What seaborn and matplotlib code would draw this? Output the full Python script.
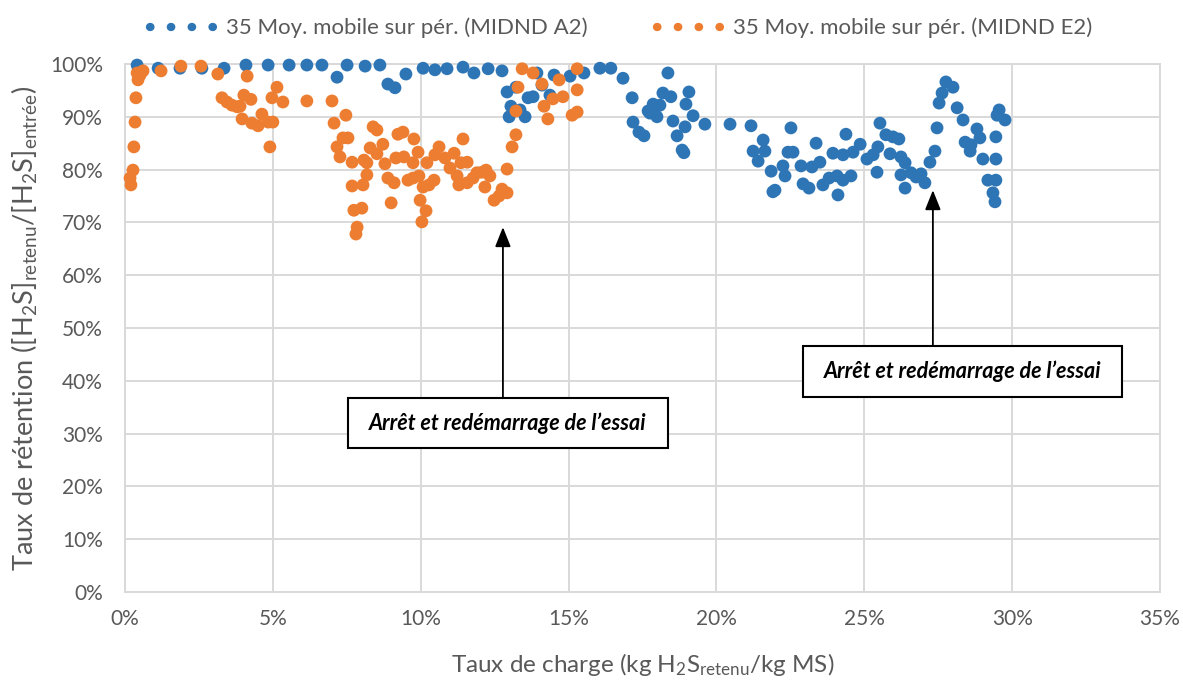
import numpy as np
import pandas as pd
import matplotlib
matplotlib.use("Agg")
import matplotlib.pyplot as plt
from matplotlib.lines import Line2D
from matplotlib.patches import Rectangle
from matplotlib.ticker import PercentFormatter
import seaborn as sns

# Series labels
series_a2 = "35 Moy. mobile sur pér. (MIDND A2)"
series_e2 = "35 Moy. mobile sur pér. (MIDND E2)"

# MIDND A2: loading rate (%) and retention rate (%)
a2_charge = [
    0.41, 1.12, 1.86, 2.60, 3.35, 4.09, 4.84, 5.55, 6.15, 6.66, 7.17, 7.51, 8.12, 8.62,
    8.89, 9.13, 9.50, 10.08, 10.48, 10.89, 11.43, 11.80, 12.28, 12.75, 12.92, 13.22,
    13.05, 12.99, 13.36, 13.53, 13.63, 13.80, 13.93, 14.10, 14.37, 14.51, 15.05, 15.52,
    16.06, 16.43, 16.84, 17.15, 17.18, 17.38, 17.55, 17.69, 17.86, 17.99, 18.09, 18.19,
    18.36, 18.46, 18.53, 18.67, 18.84, 18.90, 18.94, 18.97, 19.07, 19.21, 19.61, 20.46,
    21.17, 21.58, 21.24, 21.64, 21.41, 21.85, 21.98, 21.91, 22.25, 22.32, 22.52, 22.42,
    22.59, 22.86, 22.93, 23.13, 23.23, 23.37, 23.50, 23.60, 23.81, 23.94, 24.08, 24.11,
    24.28, 24.38, 24.28, 24.55, 24.62, 24.86, 25.09, 25.30, 25.43, 25.46, 25.53, 25.73,
    25.97, 26.17, 25.87, 26.24, 26.38, 26.24, 26.38, 26.58, 26.75, 26.92, 27.05, 27.22,
    27.39, 27.46, 27.53, 27.63, 27.76, 28.00, 28.14, 28.34, 28.81, 28.91, 28.41, 28.61,
    28.58, 29.01, 29.18, 29.45, 29.35, 29.42, 29.45, 29.45, 29.56, 29.49, 29.76, 17.75,
    17.92,
]
a2_retention = [
    99.8, 99.2, 99.2, 99.2, 99.2, 99.8, 99.8, 99.8, 99.8, 99.8, 97.5, 99.8, 99.6, 99.8,
    96.2, 95.5, 98.1, 99.2, 98.9, 99.1, 99.4, 98.3, 99.1, 98.7, 94.7, 95.6,
    92.0, 90.0, 91.3, 90.0, 93.6, 93.8, 98.3, 96.0, 94.1, 97.9, 97.7, 98.3,
    99.2, 99.2, 97.3, 93.6, 89.0, 87.1, 86.4, 91.1, 92.4, 90.0, 92.2, 94.5,
    98.3, 93.8, 89.2, 86.4, 83.7, 83.2, 88.1, 92.4, 94.7, 90.2, 88.6, 88.6,
    88.3, 85.6, 83.5, 83.5, 81.6, 79.7, 76.1, 75.8, 80.7, 78.8, 87.9, 83.3,
    83.3, 80.7, 77.3, 76.5, 80.5, 85.0, 81.4, 77.1, 78.4, 83.1, 78.8, 75.2,
    78.0, 86.7, 82.8, 78.8, 83.3, 84.8, 82.0, 82.8, 79.5, 84.3, 88.8, 86.6,
    86.2, 85.8, 83.0, 82.4, 81.3, 79.0, 76.5, 79.4, 78.6, 79.2, 77.5, 81.4,
    83.5, 87.9, 92.6, 94.5, 96.6, 95.6, 91.7, 89.4, 87.7, 86.0, 85.2, 84.7,
    83.5, 82.0, 78.0, 78.0, 75.6, 73.9, 86.2, 82.0, 91.3, 90.3, 89.4, 90.7,
    91.7,
]

# MIDND E2: loading rate (%) and retention rate (%)
e2_charge = [
    0.17, 0.20, 0.27, 0.30, 0.34, 0.37, 0.44, 0.41, 0.51, 0.61, 1.22, 1.89, 2.57, 3.14,
    4.13, 3.28, 3.45, 3.62, 3.79, 3.89, 4.02, 4.26, 3.96, 4.29, 4.50, 4.63, 4.84, 5.00,
    4.90, 4.97, 5.14, 5.34, 6.15, 7.00, 7.07, 7.47, 7.17, 7.27, 7.37, 7.54, 7.68, 7.68,
    7.74, 8.01, 7.85, 7.81, 8.05, 8.18, 8.08, 8.18, 8.29, 8.39, 8.52, 8.52, 8.72, 8.79,
    8.89, 9.10, 9.00, 9.23, 9.40, 9.16, 9.43, 9.74, 9.77, 9.91, 9.94, 9.74, 9.57, 9.98,
    10.18, 10.04, 10.21, 10.08, 10.28, 10.45, 10.48, 10.62, 10.82, 10.99, 11.13, 11.23,
    11.29, 11.43, 11.36, 11.57, 11.57, 11.77, 11.90, 12.07, 12.21, 12.34, 12.17, 12.48,
    12.65, 12.75, 12.92, 12.92, 13.09, 13.22, 13.22, 13.29, 13.43, 13.80, 14.10, 14.17,
    14.30, 14.47, 14.68, 14.81, 15.12, 15.29, 15.29, 15.29,
]
e2_retention = [
    78.4, 77.1, 79.9, 84.3, 89.0, 93.6, 97.0, 98.3, 97.9, 98.7, 98.7, 99.6, 99.6, 98.1,
    97.7, 93.6, 92.8, 92.2, 91.9, 92.0, 94.1, 93.3, 89.6, 88.8, 88.3, 90.5, 89.0, 89.0,
    84.3, 93.6, 95.6, 92.8, 93.0, 93.0, 88.8, 90.3, 84.3, 82.4, 86.0, 86.0, 81.4, 76.9,
    72.3, 72.7, 69.1, 67.8, 77.1, 79.0, 81.8, 81.3, 84.1, 88.1, 87.5, 83.0, 84.8, 81.1,
    78.4, 77.5, 73.7, 86.7, 87.1, 82.2, 82.4, 81.3, 85.8, 83.3, 78.8, 78.4, 78.0, 74.2,
    72.2, 70.1, 81.3, 76.7, 77.1, 78.0, 82.8, 84.3, 82.2, 80.3, 83.1, 78.8,
    77.1, 85.8, 81.3, 81.4, 77.5, 78.4, 79.4, 79.5, 79.9, 78.8, 76.7, 74.2,
    75.0, 76.3, 75.6, 80.1, 84.3, 86.6, 91.1, 95.6, 99.1, 98.3, 96.2, 92.0,
    89.6, 93.4, 97.0, 93.8, 90.3, 90.9, 95.1, 99.1,
]

# Axis ticks
x_ticks = [0, 5, 10, 15, 20, 25, 30, 35]
y_ticks = [0, 10, 20, 30, 40, 50, 60, 70, 80, 90, 100]

annotation_text = "Arrêt et redémarrage de l\u2019essai"

blue = "#2E75B6"
orange = "#ED7D31"
grid_gray = "#D9D9D9"
text_gray = "#595959"

df = pd.concat([
    pd.DataFrame({"charge": np.array(a2_charge) / 100, "retention": np.array(a2_retention) / 100,
                  "serie": series_a2}),
    pd.DataFrame({"charge": np.array(e2_charge) / 100, "retention": np.array(e2_retention) / 100,
                  "serie": series_e2}),
], ignore_index=True)

sns.set_theme(style="whitegrid")
plt.rcParams["font.family"] = ["Lato", "DejaVu Sans"]
plt.rcParams["mathtext.default"] = "regular"

fig = plt.figure(figsize=(11.83, 6.84), dpi=100)
ax = fig.add_axes([125 / 1183, 1 - 592 / 684, (1160 - 125) / 1183, (592 - 64) / 684])

sns.scatterplot(data=df, x="charge", y="retention", hue="serie",
                palette={series_a2: blue, series_e2: orange},
                s=85, linewidth=0, legend=False, ax=ax, zorder=3, clip_on=False)

ax.set_xlim(0, 0.35)
ax.set_ylim(0, 1.0)
ax.set_xticks(np.array(x_ticks) / 100)
ax.set_yticks(np.array(y_ticks) / 100)
ax.xaxis.set_major_formatter(PercentFormatter(1.0, decimals=0))
ax.yaxis.set_major_formatter(PercentFormatter(1.0, decimals=0))
ax.grid(True, color=grid_gray, linewidth=1.4)
for sp in ax.spines.values():
    sp.set_color(grid_gray)
    sp.set_linewidth(1.4)
ax.tick_params(axis="both", length=0, labelsize=15, labelcolor=text_gray)
ax.tick_params(axis="x", pad=12)
ax.tick_params(axis="y", pad=16)

ax.set_xlabel("Taux de charge (kg H$_2$S$_{retenu}$/kg MS)", fontsize=17.5,
              color=text_gray, labelpad=16)
ax.set_ylabel("Taux de rétention ([H$_2$S]$_{retenu}$/[H$_2$S]$_{entrée}$)", fontsize=19.5,
              color=text_gray, labelpad=7)

# Annotations: stop / restart of the trial
boxes = [
    # (box x0, y0, width, height, arrow x, arrow tip y)
    (0.0754, 0.273, 0.1082, 0.094, 0.1278, 0.691),
    (0.2293, 0.369, 0.1079, 0.097, 0.2732, 0.761),
]
for x0, y0, w, h, ax_x, tip_y in boxes:
    ax.add_patch(Rectangle((x0, y0), w, h, facecolor="white", edgecolor="black",
                           linewidth=1.5, zorder=5))
    ax.text(x0 + w / 2, y0 + h / 2, annotation_text, ha="center", va="center",
            fontsize=15.5, fontweight="bold", fontstyle="italic", color="black", zorder=6)
    ax.annotate("", xy=(ax_x, tip_y), xytext=(ax_x, y0 + h),
                arrowprops=dict(arrowstyle="-|>,head_length=1.0,head_width=0.4",
                                color="black", linewidth=1.3, shrinkA=0, shrinkB=0),
                zorder=5)

# Legend with dotted markers
handles = [
    Line2D([0], [0], color=c, linewidth=6, linestyle=(0, (0.05, 2.45)),
           dash_capstyle="round")
    for c in (blue, orange)
]
leg = fig.legend(handles, [series_a2, series_e2], loc="center", ncol=2,
                 bbox_to_anchor=(0.525, 1 - 28 / 684), frameon=False, fontsize=16,
                 handlelength=2.95, columnspacing=3.1, handletextpad=0.5)
for t in leg.get_texts():
    t.set_color(text_gray)

fig.savefig("out.png", dpi=100)
